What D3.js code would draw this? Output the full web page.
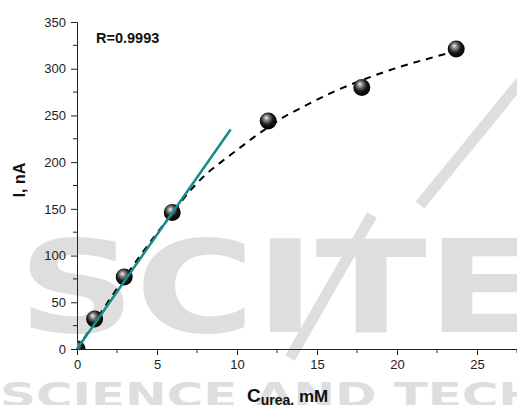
<!DOCTYPE html>
<html>
<head>
<meta charset="utf-8">
<script src="https://cdn.jsdelivr.net/npm/d3@7"></script>
<style>
  body { margin: 0; background: #fff; }
  svg { display: block; font-family: Arial, "Liberation Sans", sans-serif; }
</style>
</head>
<body>
<script>
// measured points (urea concentration, mM ; current, nA)
const concData = [0, 1.1, 2.95, 5.95, 11.95, 17.8, 23.7];
const currentData = [0, 32, 77, 146, 244, 280, 321];

// dashed fit curve
const fitX = [0, 1, 2, 3, 4, 5, 6, 7, 8, 9, 10, 11, 12, 13, 14, 16, 18, 20, 22, 23.7];
const fitY = [0, 26, 52, 77, 101, 124, 146, 168, 186, 200, 213, 226, 238, 249, 258, 275, 289, 301, 311, 319];

// linear fit end points
const linX = [0, 9.6];
const linY = [0, 235];

const xTicks = [0, 5, 10, 15, 20, 25];
const yTicks = [0, 50, 100, 150, 200, 250, 300, 350];

var width = 517, height = 405;

var svg = d3.select("body").append("svg")
	.attr("width", width)
	.attr("height", height);

var x = d3.scaleLinear().domain([0, 27.5]).range([77, 517]);
var y = d3.scaleLinear().domain([0, 350]).range([349, 22]);

var defs = svg.append("defs");
var grad = defs.append("radialGradient").attr("id", "ball")
	.attr("cx", "45%").attr("cy", "40%").attr("r", "60%")
	.attr("fx", "38%").attr("fy", "30%");
grad.append("stop").attr("offset", "0%").attr("stop-color", "#f4f4f4");
grad.append("stop").attr("offset", "25%").attr("stop-color", "#8a8a8a");
grad.append("stop").attr("offset", "60%").attr("stop-color", "#1a1a1a");
grad.append("stop").attr("offset", "100%").attr("stop-color", "#000");

defs.append("clipPath").attr("id", "plot")
	.append("rect").attr("x", 77).attr("y", 0).attr("width", 440).attr("height", 349);

// watermark
var wm = svg.append("g").attr("fill", "#dedede");
wm.append("text")
	.attr("x", 18).attr("y", 332)
	.attr("textLength", 520).attr("lengthAdjust", "spacingAndGlyphs")
	.style("font-family", "DejaVu Sans")
	.style("font-weight", "bold")
	.style("font-size", "128px")
	.text("SCITE");
wm.append("text")
	.attr("x", 0).attr("y", 407)
	.attr("textLength", 540).attr("lengthAdjust", "spacingAndGlyphs")
	.style("font-family", "DejaVu Sans")
	.style("font-weight", "bold")
	.style("font-size", "34px")
	.text("SCIENCE AND TECH");
wm.append("line")
	.attr("x1", 290).attr("y1", 358).attr("x2", 372).attr("y2", 215)
	.attr("stroke", "#dedede").attr("stroke-width", 11);
wm.append("line")
	.attr("x1", 420).attr("y1", 205).attr("x2", 522).attr("y2", 80)
	.attr("stroke", "#dedede").attr("stroke-width", 11);

// axes
var xAxis = svg.append("g").attr("transform", "translate(0," + y(0) + ")")
	.call(d3.axisBottom(x).tickValues(xTicks).tickSize(6).tickPadding(5).tickFormat(d3.format("d")));
xAxis.append("g").selectAll("line")
	.data(d3.range(2.5, 28, 5))
	.enter().append("line")
	.attr("x1", d => x(d)).attr("x2", d => x(d))
	.attr("y1", 0).attr("y2", 4)
	.attr("stroke", "#222");

var yAxis = svg.append("g").attr("transform", "translate(" + x(0) + ",0)")
	.call(d3.axisLeft(y).tickValues(yTicks).tickSize(6).tickPadding(5).tickFormat(d3.format("d")));
yAxis.append("g").selectAll("line")
	.data(d3.range(25, 350, 50))
	.enter().append("line")
	.attr("y1", d => y(d)).attr("y2", d => y(d))
	.attr("x1", 0).attr("x2", -4)
	.attr("stroke", "#222");

svg.selectAll(".domain").attr("stroke", "#222");
svg.selectAll(".tick line").attr("stroke", "#222");
svg.selectAll(".tick text")
	.style("font-family", "Arial, 'Liberation Sans', sans-serif")
	.style("font-size", "13px")
	.attr("fill", "#222");

// dashed fit
var fitPts = fitX.map((d, i) => [d, fitY[i]]);
svg.append("path")
	.datum(fitPts)
	.attr("d", d3.line().x(d => x(d[0])).y(d => y(d[1])).curve(d3.curveMonotoneX))
	.attr("fill", "none")
	.attr("stroke", "#000")
	.attr("stroke-width", 2)
	.attr("stroke-dasharray", "7,6");

// spheres
svg.append("g").attr("clip-path", "url(#plot)")
	.selectAll("circle")
	.data(concData)
	.enter().append("circle")
	.attr("cx", d => x(d))
	.attr("cy", (d, i) => y(currentData[i]))
	.attr("r", 8.5)
	.attr("fill", "url(#ball)");

// linear fit
svg.append("line")
	.attr("x1", x(linX[0])).attr("y1", y(linY[0]))
	.attr("x2", x(linX[1])).attr("y2", y(linY[1]))
	.attr("stroke", "#178a8a")
	.attr("stroke-width", 2.5);

// labels
svg.append("text")
	.attr("x", 96).attr("y", 43)
	.style("font-weight", "bold")
	.style("font-size", "14.5px")
	.attr("fill", "#111")
	.text("R=0.9993");

svg.append("text")
	.attr("transform", "translate(25,180) rotate(-90)")
	.attr("text-anchor", "middle")
	.style("font-weight", "bold")
	.style("font-size", "16px")
	.attr("fill", "#111")
	.text("I, nA");

var xl = svg.append("text")
	.attr("x", 247).attr("y", 402)
	.style("font-weight", "bold")
	.attr("fill", "#111");
xl.append("tspan").style("font-size", "19px").text("C");
xl.append("tspan").style("font-size", "14px").attr("dy", 3).text("urea,");
xl.append("tspan").style("font-size", "17px").attr("dy", -3).text(" mM");
</script>
</body>
</html>
